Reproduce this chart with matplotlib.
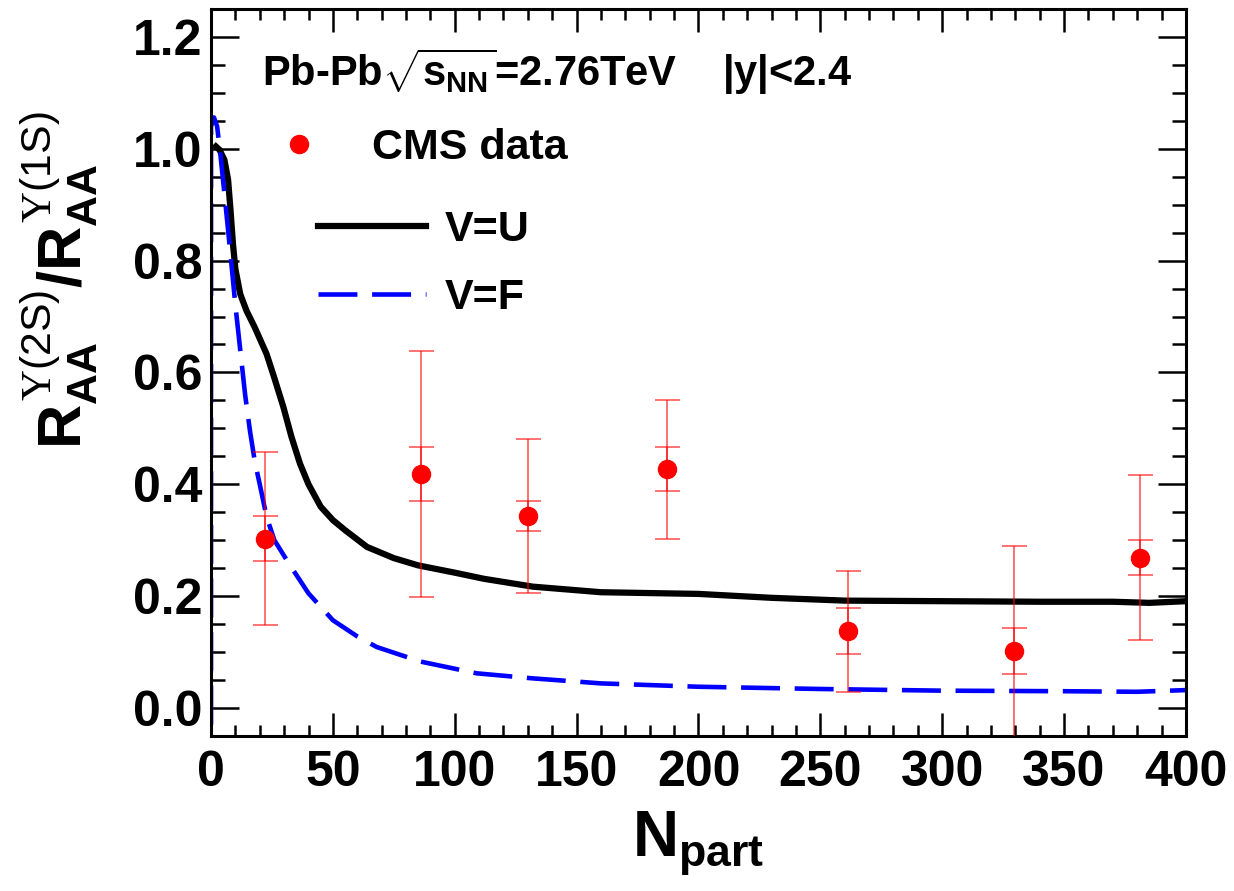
import numpy as np
import matplotlib
matplotlib.use('Agg')
import matplotlib.pyplot as plt

plt.rcParams['font.family'] = ['Liberation Sans', 'DejaVu Sans']
plt.rcParams['font.weight'] = 'bold'
plt.rcParams['mathtext.fontset'] = 'custom'
plt.rcParams['mathtext.rm'] = 'Liberation Sans:bold'
plt.rcParams['mathtext.it'] = 'Liberation Sans:bold'
plt.rcParams['mathtext.bf'] = 'Liberation Sans:bold'
plt.rcParams['mathtext.sf'] = 'Liberation Sans:normal'
plt.rcParams['mathtext.cal'] = 'Liberation Serif:normal'

# CMS data points (ratio of 2S/1S nuclear modification factors)
npart_cms = [22.1, 86.3, 130.0, 187.1, 261.4, 329.4, 381.3]
ratio_cms = [0.303, 0.419, 0.343, 0.427, 0.137, 0.102, 0.269]
err_stat = [0.040, 0.048, 0.027, 0.039, 0.041, 0.041, 0.031]
err_tot = [0.154, 0.220, 0.138, 0.124, 0.108, 0.188, 0.147]

# model curve V=U
npart_u = [2.0, 3.5, 5.5, 7, 8, 9, 10, 12, 14.6, 18, 22.8, 26, 29.7, 33, 36.5,
           40, 45, 50, 55, 64, 75, 85, 100, 112, 132, 160, 200, 230, 260, 300,
           340, 370, 385, 400]
ratio_u = [1.004, 0.998, 0.98, 0.945, 0.89, 0.83, 0.785, 0.74, 0.71, 0.68,
           0.633, 0.59, 0.538, 0.485, 0.437, 0.40, 0.36, 0.336, 0.318, 0.288,
           0.268, 0.255, 0.242, 0.231, 0.217, 0.207, 0.204, 0.197, 0.192,
           0.191, 0.190, 0.190, 0.188, 0.191]

# model curve V=F
npart_f = [0.0, 0.0, 1.2, 2.5, 3.7, 5.5, 7.8, 10, 12, 14, 16, 18, 20, 22.8, 26,
           32, 40, 50, 60, 68, 86, 109, 132, 160, 200, 250, 300, 350, 380, 400]
ratio_f = [-0.03, 1.04, 1.056, 1.04, 0.996, 0.92, 0.82, 0.72, 0.64, 0.56,
           0.495, 0.44, 0.40, 0.342, 0.30, 0.258, 0.205, 0.157, 0.128, 0.109,
           0.083, 0.062, 0.053, 0.044, 0.038, 0.034, 0.031, 0.030, 0.029,
           0.032]

fig = plt.figure(figsize=(12.34, 8.91), dpi=100)
ax = fig.add_axes([0.171, 0.174, 0.790, 0.816])

l_u, = ax.plot(npart_u, ratio_u, color='black', lw=4.5, zorder=2)
l_f, = ax.plot(npart_f, ratio_f, color='blue', lw=3.3, dashes=(8.5, 3.2),
               zorder=2)

ax.errorbar(npart_cms, ratio_cms, yerr=err_tot, fmt='none', ecolor='red',
            alpha=0.6, elinewidth=1.3, capsize=9, capthick=1.3, zorder=4)
ax.errorbar(npart_cms, ratio_cms, yerr=err_stat, fmt='none', ecolor='red',
            alpha=0.6, elinewidth=1.3, capsize=9, capthick=1.3, zorder=4)
pts, = ax.plot(npart_cms, ratio_cms, linestyle=' ', marker='o', color='red',
               markersize=13, zorder=5)

ax.set_xlim(0, 400)
ax.set_ylim(-0.05, 1.25)
ax.set_xticks(np.arange(0, 401, 50))
ax.set_yticks(np.arange(0, 1.21, 0.2))
ax.set_yticklabels(['0.0', '0.2', '0.4', '0.6', '0.8', '1.0', '1.2'])
ax.set_xticks(np.arange(0, 401, 10), minor=True)
ax.set_yticks(np.arange(-0.05, 1.251, 0.05), minor=True)

ax.tick_params(axis='both', which='both', direction='in', top=True, right=True,
               width=1.8, labelsize=36)
ax.tick_params(axis='x', which='major', length=16.5, pad=10)
ax.tick_params(axis='x', which='minor', length=8)
ax.tick_params(axis='y', which='major', length=20, pad=6)
ax.tick_params(axis='y', which='minor', length=10)
for sp in ax.spines.values():
    sp.set_linewidth(2.2)
    sp.set_zorder(3)

ax.set_xlabel(r'$N_{part}$', fontsize=46, labelpad=10)
fig.text(0.048, 0.685,
         r'$R_{AA}^{\mathcal{\Upsilon}\mathsf{(2S)}}/R_{AA}^{\mathcal{\Upsilon}\mathsf{(1S)}}$',
         rotation=90, fontsize=44, ha='center', va='center')

ax.text(21, 1.112, r'Pb-Pb$\sqrt{s_{NN}}$=2.76TeV    |y|<2.4', fontsize=30)

leg1 = ax.legend([pts], ['CMS data'], loc='upper left',
                 bbox_to_anchor=(0.0677, 0.836), frameon=False, fontsize=31,
                 handlelength=1.0, handletextpad=1.2, borderpad=0,
                 borderaxespad=0)
ax.add_artist(leg1)
ax.legend([l_u, l_f], ['V=U', 'V=F'], loc='upper left',
          bbox_to_anchor=(0.1097, 0.724), frameon=False, fontsize=31,
          handlelength=2.5, handletextpad=0.45, labelspacing=0.67,
          borderpad=0, borderaxespad=0)

fig.savefig('out.png', dpi=100)
